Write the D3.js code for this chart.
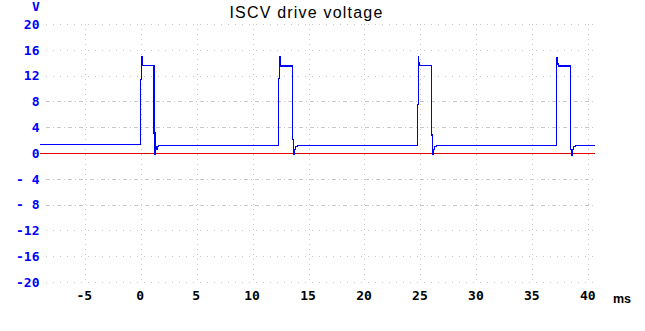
<!DOCTYPE html>
<html>
<head>
<meta charset="utf-8">
<script src="https://cdn.jsdelivr.net/npm/d3@7"></script>
<style>
  body { margin: 0; background: #fff; }
  svg { display: block; }
</style>
</head>
<body>
<div id="chart"></div>
<script>
(function() {
  'use strict';
  var WIDTH = 645;
  var HEIGHT = 331;

  var TITLE = 'ISCV drive voltage';
  var X_UNIT = 'ms';
  var Y_UNIT = 'V';

  var xTicks = [-5, 0, 5, 10, 15, 20, 25, 30, 35, 40];
  var yTicks = [20, 16, 12, 8, 4, 0, -4, -8, -12, -16, -20];
  var yTickLabels = ['20', '16', '12', '8', '4', '0', '- 4', '- 8', '-12', '-16', '-20'];

  // trace: time (ms), volts
  var traceTime = [
    -9.0, -0.01, 0.0, 0.06, 0.07, 0.12, 0.18, 1.18, 1.19, 1.26, 1.27, 1.33, 1.45, 1.6,
    12.31, 12.32, 12.38, 12.39, 12.45, 12.52, 13.54, 13.55, 13.62, 13.63, 13.7, 13.85, 14.0,
    24.72, 24.73, 24.79, 24.8, 24.86, 24.93, 25.98, 25.99, 26.06, 26.07, 26.13, 26.28, 26.4,
    37.13, 37.14, 37.2, 37.21, 37.27, 37.34, 38.39, 38.4, 38.47, 38.48, 38.55, 38.7, 38.85,
    40.6
  ];
  var traceVolts = [
    1.3, 1.3, 11.4, 11.4, 14.9, 14.2, 13.6, 13.6, 3.1, 3.1, -0.2, 0.5, 1.05, 1.2,
    1.28, 11.6, 11.6, 15.0, 14.2, 13.5, 13.5, 2.1, 2.1, -0.2, 0.6, 1.05, 1.2,
    1.28, 7.5, 7.5, 15.0, 14.0, 13.6, 13.6, 2.8, 2.8, -0.2, 0.6, 1.05, 1.2,
    1.28, 14.8, 14.8, 14.2, 13.8, 13.5, 13.5, 0.5, 0.5, -0.3, 0.6, 1.05, 1.2,
    1.2
  ];

  var plot = {left: 40, right: 595, top: 24, bottom: 282};

  var x = d3.scaleLinear().domain([-9, 40.6]).range([plot.left, plot.right]);
  var y = d3.scaleLinear().domain([-20, 20]).range([plot.bottom, plot.top]);

  var svg = d3.select('#chart').append('svg')
    .attr('width', WIDTH)
    .attr('height', HEIGHT);

  var tickFont = 'bold 13px "DejaVu Sans Mono", monospace';

  // grid
  var grid = svg.append('g').attr('shape-rendering', 'crispEdges');
  grid.selectAll('line.v')
    .data(xTicks)
    .enter().append('line')
    .attr('x1', function(d) { return Math.round(x(d)) + 0.5; })
    .attr('x2', function(d) { return Math.round(x(d)) + 0.5; })
    .attr('y1', plot.top)
    .attr('y2', plot.bottom)
    .attr('stroke', '#c8c8c8')
    .attr('stroke-dasharray', '1,4');

  grid.selectAll('line.h')
    .data(yTicks.filter(function(d) { return d !== 0; }))
    .enter().append('line')
    .attr('x1', plot.left + 6)
    .attr('x2', plot.right)
    .attr('y1', function(d) { return Math.round(y(d)) + 0.5; })
    .attr('y2', function(d) { return Math.round(y(d)) + 0.5; })
    .attr('stroke', '#c8c8c8')
    .attr('stroke-dasharray', function(d) {
      return Math.abs(d) <= 8 ? '4,3,1,3' : '1,6';
    });

  grid.append('line')
    .attr('x1', plot.left)
    .attr('x2', plot.right)
    .attr('y1', Math.round(y(0)) + 0.5)
    .attr('y2', Math.round(y(0)) + 0.5)
    .attr('stroke', '#e00000');

  // trace
  var pts = traceTime.map(function(t, i) { return [t, traceVolts[i]]; });
  var line = d3.line()
    .x(function(d) { return x(d[0]); })
    .y(function(d) { return y(d[1]); })
    .curve(d3.curveStepAfter);

  svg.append('path')
    .datum(pts)
    .attr('d', line)
    .attr('fill', 'none')
    .attr('stroke', '#0000ff')
    .attr('stroke-width', 1.2)
    .attr('shape-rendering', 'crispEdges');

  // y labels
  svg.selectAll('text.ylab')
    .data(yTicks)
    .enter().append('text')
    .attr('x', 39.5)
    .attr('y', function(d) { return y(d); })
    .attr('dy', '0.37em')
    .attr('text-anchor', 'end')
    .attr('fill', '#0000ff')
    .style('font', tickFont)
    .style('white-space', 'pre')
    .text(function(d, i) { return yTickLabels[i]; });

  svg.append('text')
    .attr('x', 36)
    .attr('y', 11)
    .attr('text-anchor', 'middle')
    .attr('fill', '#0000ff')
    .style('font', tickFont)
    .text(Y_UNIT);

  // x labels
  svg.selectAll('text.xlab')
    .data(xTicks)
    .enter().append('text')
    .attr('x', function(d) { return x(d) - 0.5; })
    .attr('y', 299.5)
    .attr('text-anchor', 'middle')
    .attr('fill', '#000')
    .style('font', tickFont)
    .text(function(d) { return d; });

  svg.append('text')
    .attr('x', 622)
    .attr('y', 302.5)
    .attr('text-anchor', 'middle')
    .attr('fill', '#000')
    .style('font', 'bold 12.5px "Liberation Sans", Arial, sans-serif')
    .text(X_UNIT);

  svg.append('text')
    .attr('x', 306.5)
    .attr('y', 18)
    .attr('text-anchor', 'middle')
    .attr('fill', '#000')
    .style('font', '16px "Liberation Sans", Arial, sans-serif')
    .style('letter-spacing', '1.2px')
    .text(TITLE);
})();
</script>
</body>
</html>
